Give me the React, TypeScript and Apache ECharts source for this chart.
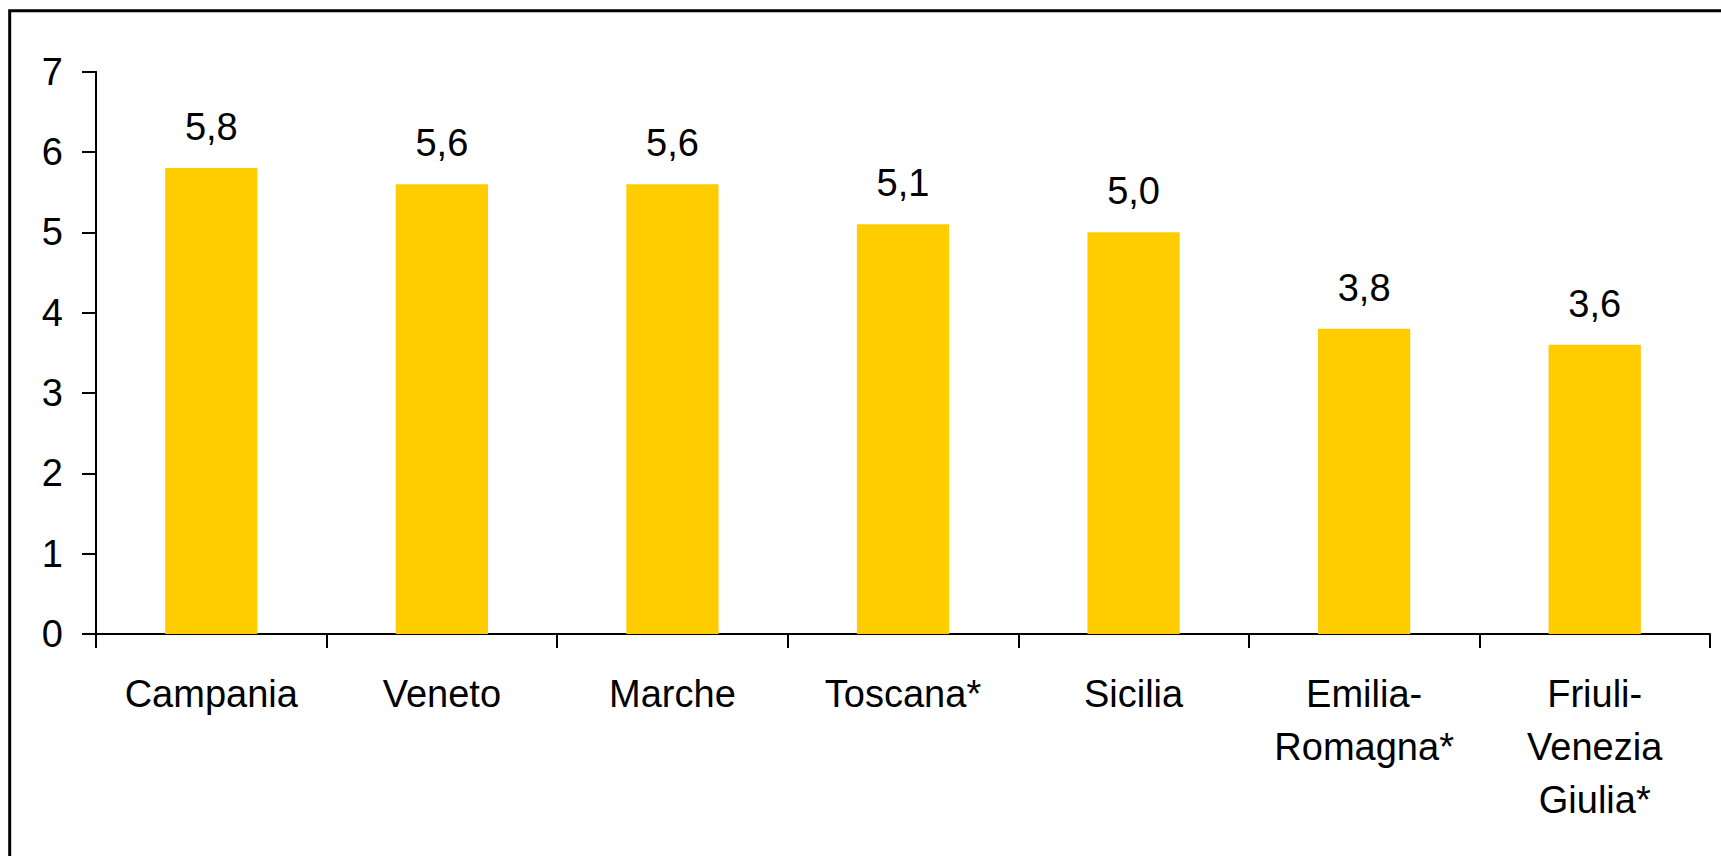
import React, { useEffect, useRef } from "react";
import * as echarts from "echarts";

const categories = [
  "Campania",
  "Veneto",
  "Marche",
  "Toscana*",
  "Sicilia",
  "Emilia-\nRomagna*",
  "Friuli-\nVenezia\nGiulia*",
];
const values = [5.8, 5.6, 5.6, 5.1, 5.0, 3.8, 3.6];
const yMin = 0;
const yMax = 7;
const yInterval = 1;

const FONT = "'Liberation Sans', Arial, sans-serif";

export default function App() {
  const ref = useRef<HTMLDivElement>(null);
  useEffect(() => {
    if (!ref.current) return;
    const chart = echarts.init(ref.current, undefined, { renderer: "svg" });
    chart.setOption({
      animation: false,
      backgroundColor: "#ffffff",
      textStyle: { fontFamily: FONT },
      graphic: [
        {
          type: "rect",
          shape: { x: 9.7, y: 10.7, width: 2000, height: 2000 },
          style: { fill: "none", stroke: "#000", lineWidth: 3 },
          silent: true,
        },
      ],
      grid: { left: 96, right: 11, top: 71.7, bottom: 222, containLabel: false },
      xAxis: {
        type: "category",
        data: categories,
        axisLine: { show: true, lineStyle: { color: "#000", width: 2 } },
        axisTick: { show: true, length: 14, lineStyle: { color: "#000", width: 2 } },
        axisLabel: {
          interval: 0,
          margin: 33,
          color: "#000",
          fontSize: 38,
          lineHeight: 53,
          fontFamily: FONT,
        },
      },
      yAxis: {
        type: "value",
        min: yMin,
        max: yMax,
        interval: yInterval,
        splitLine: { show: false },
        axisLine: { show: true, lineStyle: { color: "#000", width: 2 } },
        axisTick: { show: true, length: 14, lineStyle: { color: "#000", width: 2 } },
        axisLabel: { margin: 33, color: "#000", fontSize: 38, fontFamily: FONT },
      },
      series: [
        {
          type: "bar",
          data: values,
          barWidth: "40%",
          itemStyle: { color: "#FFCC00" },
          label: {
            show: true,
            position: "top",
            distance: 22,
            color: "#000",
            fontSize: 38,
            lineHeight: 38,
            fontFamily: FONT,
            formatter: (p: any) => p.value.toFixed(1).replace(".", ","),
          },
        },
      ],
    });
    return () => chart.dispose();
  }, []);
  return (
    <div
      ref={ref}
      style={{ position: "absolute", left: 0, top: 0, width: 1721, height: 856 }}
    />
  );
}
